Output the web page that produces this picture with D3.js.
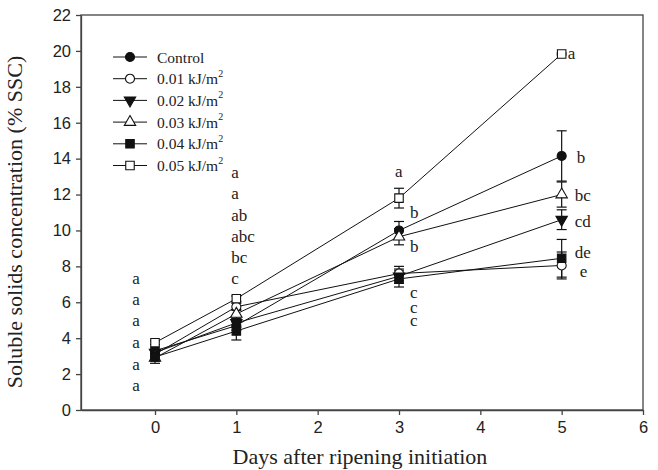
<!DOCTYPE html>
<html>
<head>
<meta charset="utf-8">
<script src="https://cdn.jsdelivr.net/npm/d3@7"></script>
<style>
  body { margin: 0; background: #fff; }
  svg { display: block; }
  .tick text { font-family: "Liberation Sans", Arial, sans-serif; font-size: 16.5px; fill: #222; }
  .serif { font-family: "Liberation Serif", "Times New Roman", serif; fill: #222; }
</style>
</head>
<body>
<div id="chart"></div>
<script>
// data
var days = [0, 1, 3, 5];
var seriesNames = ['Control', '0.01', '0.02', '0.03', '0.04', '0.05'];
var control = [3.3, 4.7, 10.0, 14.15],
    dose001 = [3.1, 5.75, 7.6, 8.05],
    dose002 = [3.2, 4.85, 7.45, 10.6],
    dose003 = [2.9, 5.35, 9.65, 12.0],
    dose004 = [2.95, 4.4, 7.3, 8.45],
    dose005 = [3.75, 6.2, 11.8, 19.83];
var errControl = [0.2, 0.25, 0.5, 1.4],
    err001 = [0.2, 0.2, 0.4, 0.75],
    err002 = [0.2, 0.25, 0.4, 0.55],
    err003 = [0.3, 0.25, 0.45, 0.7],
    err004 = [0.2, 0.5, 0.45, 1.05],
    err005 = [0.1, 0.15, 0.55, 0.05];

// significance letters: day, y value, text
var letterDays = [0, 0, 0, 0, 0, 0, 1, 1, 1, 1, 1, 1, 3, 3, 3, 3, 3, 3, 5, 5, 5, 5, 5, 5];
var letterValues = [7.35, 6.13, 4.96, 3.75, 2.56, 1.39,
                    13.22, 12.07, 10.86, 9.69, 8.5, 7.3,
                    13.28, 10.99, 9.1, 6.53, 5.72, 4.96,
                    19.83, 14.04, 11.92, 10.49, 8.75, 7.74];
var letterTexts = ['a', 'a', 'a', 'a', 'a', 'a',
                   'a', 'a', 'ab', 'abc', 'bc', 'c',
                   'a', 'b', 'b', 'c', 'c', 'c',
                   'a', 'b', 'bc', 'cd', 'de', 'e'];
var xTicks = [0, 1, 2, 3, 4, 5, 6];
var yTicks = [0, 2, 4, 6, 8, 10, 12, 14, 16, 18, 20, 22];

var margin = {top: 15, right: 15, bottom: 60, left: 81},
    width = 658 - margin.left - margin.right,
    height = 470 - margin.top - margin.bottom;

var svg = d3.select('#chart').append('svg')
  .attr('width', 658)
  .attr('height', 470)
    .append('g')
  .attr('transform', 'translate(' + margin.left + ',' + margin.top + ')');

var x = d3.scaleLinear().domain([-0.91, 6]).range([0, width]),
    y = d3.scaleLinear().domain([0, 22]).range([height, 0]);

var values = [control, dose001, dose002, dose003, dose004, dose005],
    errors = [errControl, err001, err002, err003, err004, err005],
    shapes = [d3.symbolCircle, d3.symbolCircle, d3.symbolTriangle, d3.symbolTriangle, d3.symbolSquare, d3.symbolSquare],
    sizes = [64, 64, 56, 56, 72, 72],
    fills = ['#111', '#fff', '#111', '#fff', '#111', '#fff'],
    rotations = [0, 0, 180, 0, 0, 0];

var series = seriesNames.map(function(name, i) {
  return {
    name: name, i: i,
    points: days.map(function(d, j) { return {day: d, v: values[i][j], e: errors[i][j]}; })
  };
});

// frame
svg.append('rect')
  .attr('width', width).attr('height', height)
  .attr('fill', 'none').attr('stroke', '#444').attr('stroke-width', 1.3);

// axes
var xAxis = svg.append('g')
  .attr('transform', 'translate(0,' + height + ')')
  .call(d3.axisBottom(x).tickValues(xTicks).tickFormat(d3.format('d')).tickSize(5).tickPadding(6).tickSizeOuter(0));
var yAxis = svg.append('g')
  .call(d3.axisLeft(y).tickValues(yTicks).tickFormat(d3.format('d')).tickSize(5).tickPadding(5).tickSizeOuter(0));
[xAxis, yAxis].forEach(function(a) {
  a.select('.domain').attr('stroke', '#444').attr('stroke-width', 1.3);
  a.selectAll('.tick line').attr('stroke', '#444').attr('stroke-width', 1.3);
});

svg.append('text').attr('class', 'serif')
  .attr('x', 360 - margin.left).attr('y', height + 54)
  .attr('text-anchor', 'middle').style('font-size', '22px')
  .text('Days after ripening initiation');

svg.append('text').attr('class', 'serif')
  .attr('transform', 'translate(-59,' + (222 - margin.top) + ') rotate(-90)')
  .attr('text-anchor', 'middle').style('font-size', '22px')
  .text('Soluble solids concentration (% SSC)');

// error bars
var eb = svg.append('g').attr('stroke', '#111').attr('stroke-width', 1.2);
series.forEach(function(s) {
  s.points.forEach(function(p) {
    var cx = x(p.day), y0 = y(p.v - p.e), y1 = y(p.v + p.e);
    eb.append('line').attr('x1', cx).attr('x2', cx).attr('y1', y0).attr('y2', y1);
    eb.append('line').attr('x1', cx - 5).attr('x2', cx + 5).attr('y1', y0).attr('y2', y0);
    eb.append('line').attr('x1', cx - 5).attr('x2', cx + 5).attr('y1', y1).attr('y2', y1);
  });
});

// lines
var line = d3.line().x(function(d) { return x(d.day); }).y(function(d) { return y(d.v); });
svg.selectAll('.series-line')
  .data(series)
  .enter().append('path')
  .attr('class', 'series-line')
  .attr('fill', 'none').attr('stroke', '#111').attr('stroke-width', 1)
  .attr('d', function(d) { return line(d.points); });

// markers
function marker(sel, i) {
  sel.attr('d', d3.symbol().type(shapes[i]).size(sizes[i])())
    .attr('fill', fills[i]).attr('stroke', '#111').attr('stroke-width', 1.1);
}
series.forEach(function(s) {
  svg.append('g').selectAll('path')
    .data(s.points)
    .enter().append('path')
    .attr('transform', function(d) {
      return 'translate(' + x(d.day) + ',' + y(d.v) + ') rotate(' + rotations[s.i] + ')';
    })
    .call(marker, s.i);
});

// letters
var letterOffsets = {0: -19, 1: -5, 3: 11, 5: 13};
svg.append('g').selectAll('text')
  .data(letterTexts)
  .enter().append('text')
  .attr('class', 'serif')
  .style('font-size', '17px')
  .attr('dominant-baseline', 'central')
  .attr('text-anchor', function(d, i) { return letterDays[i] === 0 ? 'middle' : 'start'; })
  .attr('x', function(d, i) {
    var dd = letterDays[i], off = letterOffsets[dd];
    if (i === 12) off = -4;
    if (i === 18) off = 6;
    if (i === 19) off = 15;
    if (i === 23) off = 18;
    return x(dd) + off;
  })
  .attr('y', function(d, i) { return y(letterValues[i]); })
  .text(function(d) { return d; });

// legend
var legend = svg.append('g').attr('transform', 'translate(' + (113 - margin.left) + ',' + (57 - margin.top) + ')');
seriesNames.forEach(function(name, i) {
  var row = legend.append('g').attr('transform', 'translate(0,' + (i * 21.7) + ')');
  row.append('line').attr('x1', 0).attr('x2', 34).attr('stroke', '#111').attr('stroke-width', 1);
  row.append('path').attr('transform', 'translate(17,0) rotate(' + rotations[i] + ')').call(marker, i);
  var t = row.append('text').attr('class', 'serif')
    .attr('x', 44).attr('dominant-baseline', 'central').style('font-size', '15.5px');
  if (i === 0) {
    t.text(name);
  } else {
    t.text(name + ' kJ/m');
    t.append('tspan').attr('dy', -6).style('font-size', '10px').text('2');
  }
});
</script>
</body>
</html>
